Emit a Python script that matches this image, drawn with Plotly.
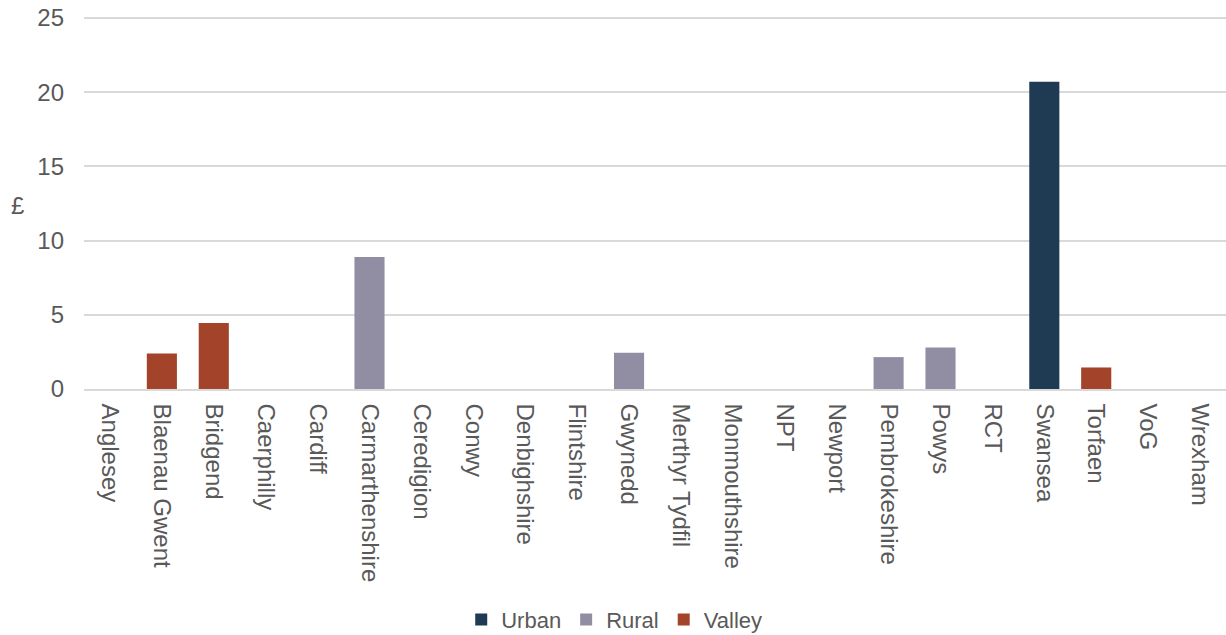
import plotly.graph_objects as go

categories = ["Anglesey", "Blaenau Gwent", "Bridgend", "Caerphilly", "Cardiff",
              "Carmarthenshire", "Ceredigion", "Conwy", "Denbighshire", "Flintshire",
              "Gwynedd", "Merthyr Tydfil", "Monmouthshire", "NPT", "Newport",
              "Pembrokeshire", "Powys", "RCT", "Swansea", "Torfaen", "VoG", "Wrexham"]
urban = [None]*18 + [20.7] + [None]*3
rural = [None]*5 + [8.9] + [None]*4 + [2.45] + [None]*4 + [2.15, 2.8] + [None]*5
valley = [None, 2.4, 4.45] + [None]*16 + [1.45, None, None]

series = [("Urban", urban, "#1f3a53"), ("Rural", rural, "#918ea3"), ("Valley", valley, "#a2432a")]

fig = go.Figure()
for name, vals, col in series:
    fig.add_trace(go.Bar(x=categories, y=vals, name=name, marker_color=col, marker_line_width=0))

font = dict(family="Liberation Sans, Arial, sans-serif", size=24, color="#595959")
fig.update_layout(
    barmode="relative", bargap=0.42,
    width=1226, height=635,
    margin=dict(l=84, r=0, t=13, b=246, autoexpand=False),
    plot_bgcolor="white", paper_bgcolor="white",
    font=font,
    legend=dict(orientation="h", x=0.501, xanchor="center", xref="container",
                y=0.024, yanchor="middle", yref="container",
                font=dict(size=22, color="#595959"), itemwidth=30, traceorder="normal"),
    yaxis=dict(range=[0, 25.34], tickvals=[0, 5, 10, 15, 20, 25], gridcolor="#d9d9d9", gridwidth=1.5,
               zeroline=False, showline=False, ticks="", tickfont=dict(size=24),
               ticklabelstandoff=19, automargin=False),
    xaxis=dict(tickangle=90, showline=True, linecolor="#d9d9d9", linewidth=1.5,
               ticks="", tickfont=dict(size=24), ticklabelstandoff=8, automargin=False),
    annotations=[dict(text="£", xref="paper", yref="paper", x=-0.0578, y=0.489,
                      xanchor="center", yanchor="middle",
                      showarrow=False, font=dict(size=24, color="#595959"))],
)
fig.write_html("out.html", post_script="document.body.style.margin='0';",
               config={"displayModeBar": False})
